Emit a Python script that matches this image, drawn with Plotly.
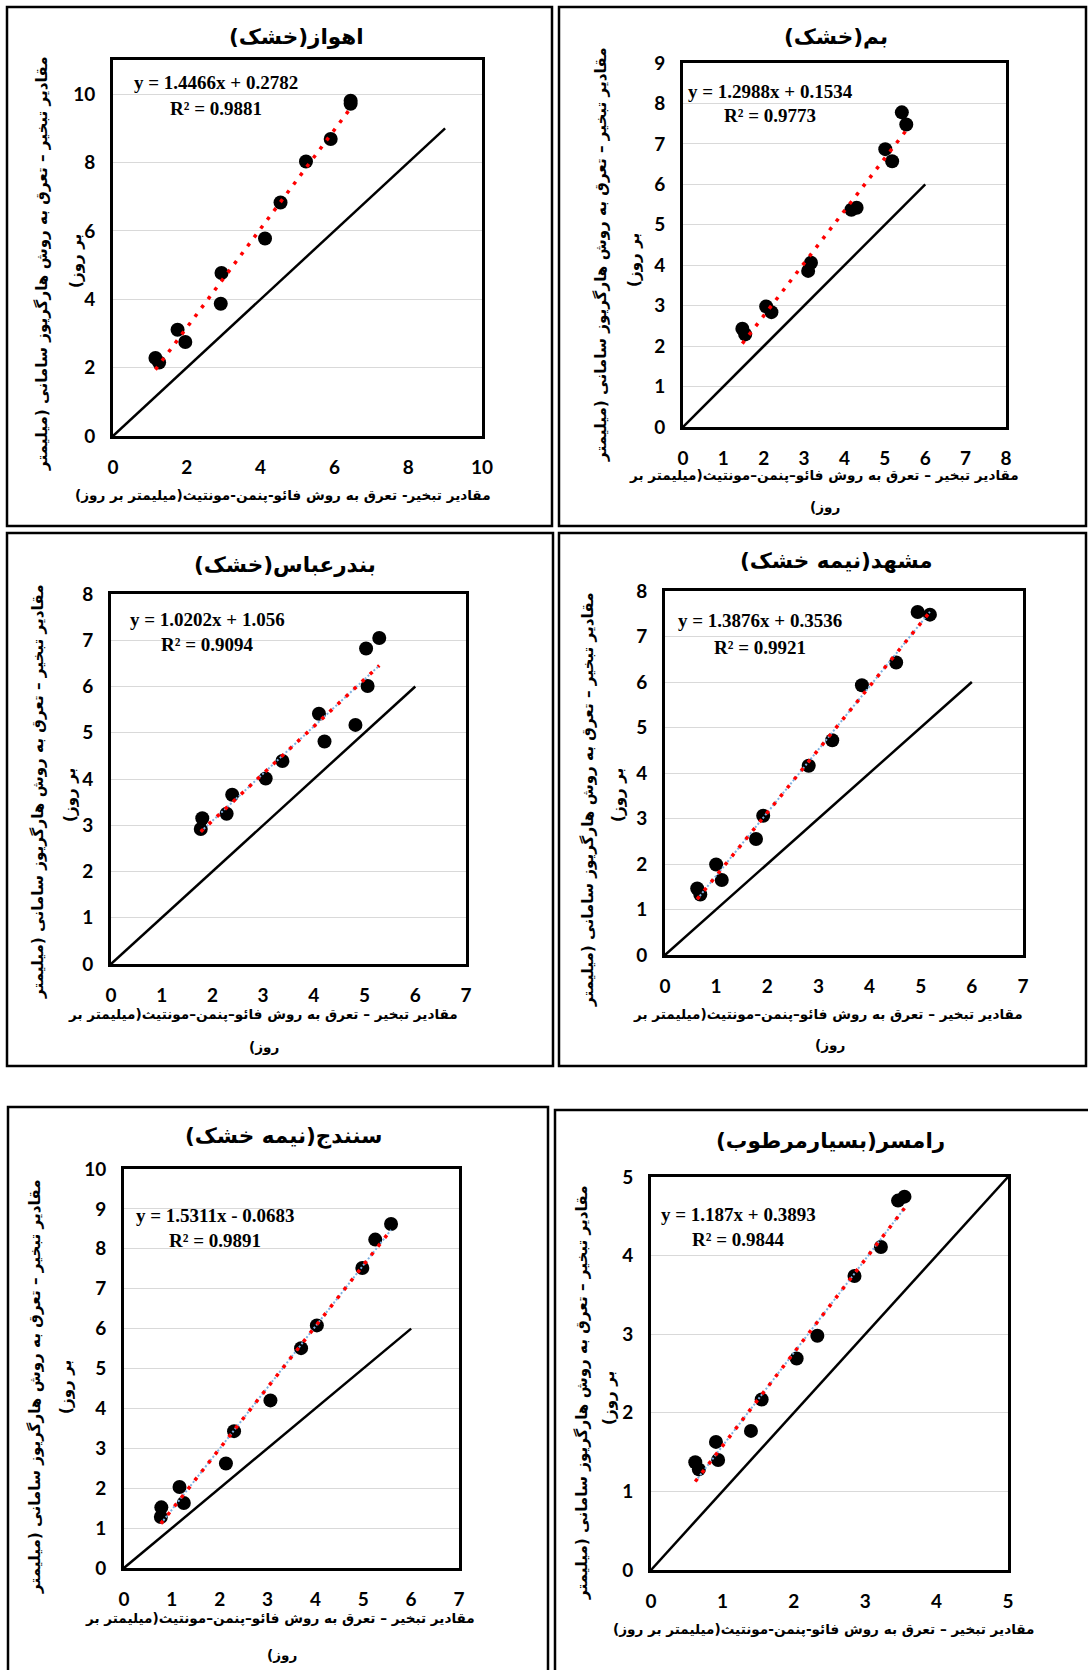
import plotly.graph_objects as go

W, H = 1088, 1670

# ---------------- data ----------------
titles = ["اهواز(خشک)\u200f", "بم(خشک)\u200f", "بندرعباس(خشک)\u200f",
          "مشهد(نیمه خشک)\u200f", "سنندج(نیمه خشک)\u200f", "رامسر(بسیارمرطوب)\u200f"]

ahvaz_x = [1.15, 1.25, 1.75, 1.96, 2.92, 2.94, 4.12, 4.54, 5.23, 5.90, 6.44, 6.44]
ahvaz_y = [2.28, 2.15, 3.11, 2.75, 3.87, 4.77, 5.78, 6.83, 8.03, 8.69, 9.72, 9.81]

bam_x = [1.47, 1.54, 2.06, 2.19, 3.10, 3.17, 4.17, 4.30, 5.01, 5.18, 5.42, 5.53]
bam_y = [2.43, 2.29, 2.98, 2.84, 3.86, 4.06, 5.37, 5.42, 6.87, 6.57, 7.78, 7.48]

bandar_x = [1.77, 1.80, 2.28, 2.39, 3.05, 3.38, 4.10, 4.21, 4.82, 5.03, 5.06, 5.29]
bandar_y = [2.92, 3.15, 3.25, 3.66, 4.01, 4.39, 5.41, 4.81, 5.17, 6.82, 6.01, 7.05]

mashhad_x = [0.63, 0.69, 1.00, 1.11, 1.78, 1.92, 2.81, 3.27, 3.85, 4.52, 4.94, 5.18]
mashhad_y = [1.46, 1.33, 1.99, 1.65, 2.55, 3.06, 4.16, 4.72, 5.93, 6.43, 7.54, 7.48]

sanandaj_x = [0.77, 0.78, 1.16, 1.25, 2.13, 2.30, 3.06, 3.70, 4.03, 4.98, 5.25, 5.58]
sanandaj_y = [1.28, 1.52, 2.03, 1.63, 2.62, 3.43, 4.20, 5.51, 6.08, 7.52, 8.23, 8.62]

ramsar_x = [0.62, 0.67, 0.91, 0.94, 1.40, 1.55, 2.04, 2.33, 2.85, 3.22, 3.46, 3.55]
ramsar_y = [1.37, 1.28, 1.63, 1.40, 1.77, 2.17, 2.69, 2.98, 3.74, 4.11, 4.70, 4.75]

slopes = [1.4466, 1.2988, 1.0202, 1.3876, 1.5311, 1.187]
intercepts = [0.2782, 0.1534, 1.056, 0.3536, -0.0683, 0.3893]
r2_values = [0.9881, 0.9773, 0.9094, 0.9921, 0.9891, 0.9844]

x_max = [10, 8, 7, 7, 7, 5]
y_max = [11, 9, 8, 8, 10, 5]
x_ticks = [[0, 2, 4, 6, 8, 10], [0, 1, 2, 3, 4, 5, 6, 7, 8], [0, 1, 2, 3, 4, 5, 6, 7],
           [0, 1, 2, 3, 4, 5, 6, 7], [0, 1, 2, 3, 4, 5, 6, 7], [0, 1, 2, 3, 4, 5]]
y_ticks = [[0, 2, 4, 6, 8, 10], [0, 1, 2, 3, 4, 5, 6, 7, 8, 9], [0, 1, 2, 3, 4, 5, 6, 7, 8],
           [0, 1, 2, 3, 4, 5, 6, 7, 8], [0, 1, 2, 3, 4, 5, 6, 7, 8, 9, 10], [0, 1, 2, 3, 4, 5]]
ref_line_max = [9, 6, 6, 6, 6, 5]
blue_under = [False, False, True, True, True, True]

xs = [ahvaz_x, bam_x, bandar_x, mashhad_x, sanandaj_x, ramsar_x]
ys = [ahvaz_y, bam_y, bandar_y, mashhad_y, sanandaj_y, ramsar_y]

xtitle_one = "مقادیر تبخیر- تعرق به روش فائو-پنمن-مونتیث(میلیمتر بر روز)\u200f"
xtitle_l1 = "مقادیر تبخیر – تعرق به روش فائو–پنمن–مونتیث(میلیمتر بر"
xtitle_l2 = "روز)\u200f"
xtitle_six = "مقادیر تبخیر – تعرق به روش فائو-پنمن-مونتیث(میلیمتر بر روز)\u200f"
ytitle_l1 = "مقادیر تبخیر – تعرق به روش هارگریوز سامانی (میلیمتر"
ytitle_l2 = "بر روز)\u200f"

# ---------------- layout geometry (pixels) ----------------
frames = [  # x0, x1, ytop, ybottom
    (113, 482, 60, 436),
    (683, 1006, 63, 427),
    (111, 466, 594, 964),
    (665, 1023, 591, 955),
    (124, 459, 1169, 1568),
    (651, 1008, 1177, 1570),
]
boxes = [  # outer panel boxes
    (7, 552, 7, 526),
    (559, 1086, 7, 526),
    (7, 553, 533, 1066),
    (559, 1086, 533, 1066),
    (8, 548, 1107, 1690),
    (555, 1100, 1110, 1690),
]
title_pos = [(296, 36), (836, 36), (285, 564), (836, 560), (283, 1136), (830, 1140)]
eq_pos = [(216, 83, 108), (770, 91, 115), (207, 619, 644), (760, 621, 647), (215, 1215, 1240), (738, 1214, 1239)]
xt_pos = [[(283, 495)], [(824, 475), (825, 507)], [(263, 1014), (264, 1047)],
          [(828, 1014), (830, 1045)], [(280, 1618), (282, 1655)], [(823, 1629)]]
yt_pos = [[(42, 264), (76, 261)], [(601, 255), (634, 260)], [(38, 792), (70, 795)],
          [(588, 800), (618, 795)], [(35, 1387), (66, 1387)], [(582, 1393), (609, 1398)]]


def px(x):
    return x / W


def py(y):
    return 1 - y / H


AR_FONT = "DejaVu Sans"
fig = go.Figure()
annotations = []
shapes = []

for i in range(6):
    n = i + 1
    xa = "x" if n == 1 else f"x{n}"
    ya = "y" if n == 1 else f"y{n}"
    xmin_d, xmax_d = min(xs[i]), max(xs[i])
    tx = [xmin_d, xmax_d]
    ty = [slopes[i] * v + intercepts[i] for v in tx]

    # 1:1 line
    fig.add_trace(go.Scatter(x=[0, ref_line_max[i]], y=[0, ref_line_max[i]], mode="lines",
                             line=dict(color="black", width=2.5), xaxis=xa, yaxis=ya,
                             showlegend=False, hoverinfo="skip"))
    # data points
    fig.add_trace(go.Scatter(x=xs[i], y=ys[i], mode="markers",
                             marker=dict(color="black", size=14), xaxis=xa, yaxis=ya,
                             showlegend=False))
    if blue_under[i]:
        fig.add_trace(go.Scatter(x=tx, y=ty, mode="lines",
                                 line=dict(color="#7fb0e0", width=2, dash="2px,2px"),
                                 xaxis=xa, yaxis=ya, showlegend=False, hoverinfo="skip"))
    # trendline
    fig.add_trace(go.Scatter(x=tx, y=ty, mode="lines",
                             line=dict(color="#ff0000", width=3.5, dash="3.5px,7.5px"),
                             xaxis=xa, yaxis=ya, showlegend=False, hoverinfo="skip"))

    fx0, fx1, fyt, fyb = frames[i]
    axis_common = dict(showline=True, linecolor="black", linewidth=3, mirror=True,
                       ticks="", zeroline=False, automargin=False,
                       tickfont=dict(family="Lato", size=19, color="black"))
    fig.layout[("xaxis" if n == 1 else f"xaxis{n}")] = dict(
        domain=[px(fx0), px(fx1)], range=[0, x_max[i]], tickvals=x_ticks[i],
        ticktext=[f"<b>{v}</b>" for v in x_ticks[i]],
        anchor=ya, showgrid=False, ticklabelstandoff=12, **axis_common)
    fig.layout[("yaxis" if n == 1 else f"yaxis{n}")] = dict(
        domain=[py(fyb), py(fyt)], range=[0, y_max[i]], tickvals=y_ticks[i],
        ticktext=[f"<b>{v}</b>" for v in y_ticks[i]],
        anchor=xa, showgrid=True, gridcolor="#d9d9d9", gridwidth=1,
        ticklabelstandoff=11, **axis_common)

    # outer box
    bx0, bx1, byt, byb = boxes[i]
    shapes.append(dict(type="rect", xref="paper", yref="paper",
                       x0=px(bx0), x1=px(bx1), y0=py(byb), y1=py(byt),
                       line=dict(color="black", width=2.5), layer="below"))

    # title
    annotations.append(dict(text=f"<b>{titles[i]}</b>", x=px(title_pos[i][0]), y=py(title_pos[i][1]),
                            xref="paper", yref="paper", showarrow=False,
                            xanchor="center", yanchor="middle",
                            font=dict(family=AR_FONT, size=21.5, color="black")))
    # equation
    ex, ey1, ey2 = eq_pos[i]
    sign = "+" if intercepts[i] >= 0 else "-"
    eq = f"y = {slopes[i]}x {sign} {abs(intercepts[i])}"
    for txt, yy in [(eq, ey1), (f"R² = {r2_values[i]}", ey2)]:
        annotations.append(dict(text=f"<b>{txt}</b>", x=px(ex), y=py(yy), xref="paper", yref="paper",
                                showarrow=False, xanchor="center", yanchor="middle",
                                font=dict(family="Liberation Serif", size=19, color="black")))
    # x titles
    if i == 0:
        xt_texts = [xtitle_one]
    elif i == 5:
        xt_texts = [xtitle_six]
    else:
        xt_texts = [xtitle_l1, xtitle_l2]
    for txt, (ax_, ay_) in zip(xt_texts, xt_pos[i]):
        annotations.append(dict(text=f"<b>{txt}</b>", x=px(ax_), y=py(ay_), xref="paper", yref="paper",
                                showarrow=False, xanchor="center", yanchor="middle",
                                font=dict(family=AR_FONT, size=13.6, color="black")))
    # y titles
    for txt, (ax_, ay_) in zip([ytitle_l1, ytitle_l2], yt_pos[i]):
        annotations.append(dict(text=f"<b>{txt}</b>", x=px(ax_), y=py(ay_), xref="paper", yref="paper",
                                showarrow=False, xanchor="center", yanchor="middle",
                                textangle=-90,
                                font=dict(family=AR_FONT, size=15.2, color="black")))

fig.update_layout(width=W, height=H, margin=dict(l=0, r=0, t=0, b=0, pad=0, autoexpand=False),
                  paper_bgcolor="white", plot_bgcolor="white",
                  annotations=annotations, shapes=shapes, showlegend=False)

fig.write_html("out.html", config={"displayModeBar": False},
               post_script="document.body.style.margin='0';document.body.style.padding='0';"
                           "document.documentElement.style.overflow='hidden';"
                           "document.body.style.overflow='hidden';")
